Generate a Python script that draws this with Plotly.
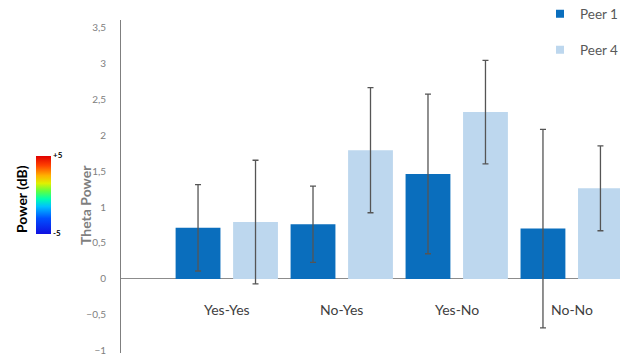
import plotly.graph_objects as go

categories = ["Yes-Yes", "No-Yes", "Yes-No", "No-No"]
peer1_values = [0.71, 0.76, 1.46, 0.70]
peer1_errors = [0.60, 0.53, 1.11, 1.38]
peer4_values = [0.79, 1.79, 2.32, 1.26]
peer4_errors = [0.86, 0.87, 0.72, 0.59]
ytick_vals = [-1, -0.5, 0, 0.5, 1, 1.5, 2, 2.5, 3, 3.5]
cbar_ticks = [-5, 5]
cbar_labels = ["-5", "+5"]

FONT = "Lato"
W, H = 620, 356
ML, MT, MB = 121, 20, 3
PW, PH = W - ML, H - MT - MB
C1, C4 = "#0A6EBD", "#BDD7EE"


def px_x(px):
    return (px - ML) / PW


def px_y(py):
    return (H - MB - py) / PH


fig = go.Figure()
fig.add_trace(go.Bar(
    x=categories, y=peer1_values, name="Peer 1", showlegend=False,
    marker=dict(color=C1, line=dict(width=0)),
    error_y=dict(type="data", array=peer1_errors, color="#555555", thickness=1.3, width=3),
))
fig.add_trace(go.Bar(
    x=categories, y=peer4_values, name="Peer 4", showlegend=False,
    marker=dict(color=C4, line=dict(width=0)),
    error_y=dict(type="data", array=peer4_errors, color="#555555", thickness=1.3, width=3),
))
# legend entries (square swatches)
fig.add_trace(go.Scatter(x=[None], y=[None], mode="markers", name="Peer 1", legend="legend",
                         marker=dict(symbol="square", size=8, color=C1)))
fig.add_trace(go.Scatter(x=[None], y=[None], mode="markers", name="Peer 4", legend="legend2",
                         marker=dict(symbol="square", size=8, color=C4)))

jet = [[0, "#1010e0"], [0.2, "#0050ff"], [0.35, "#00c0ff"], [0.45, "#00ffb0"],
       [0.55, "#60ff40"], [0.65, "#e0f000"], [0.75, "#ffb000"], [0.88, "#ff4000"], [1, "#e00000"]]
fig.add_trace(go.Scatter(
    x=[None, None], y=[None, None], mode="markers", showlegend=False, hoverinfo="skip",
    marker=dict(color=cbar_ticks, colorscale=jet, cmin=-5, cmax=5, showscale=True,
                colorbar=dict(
                    xref="container", x=36 / W, xanchor="left",
                    yref="container", y=1 - 208 / H, yanchor="middle",
                    lenmode="pixels", len=78, thicknessmode="pixels", thickness=15,
                    xpad=0, ypad=0, outlinewidth=0,
                    tickvals=cbar_ticks, ticktext=cbar_labels, ticks="",
                    tickfont=dict(family=FONT, size=8, color="#000", weight="bold"),
                )),
))

annotations = []
for c in categories:
    annotations.append(dict(x=c, y=-0.43, xref="x", yref="y", text=c, showarrow=False,
                            xanchor="center", yanchor="middle",
                            font=dict(family=FONT, size=14, color="#404040")))
annotations.append(dict(xref="paper", yref="paper", x=px_x(85), y=px_y(205),
                        xanchor="center", yanchor="middle",
                        text="<b>Theta Power</b>", textangle=-90, showarrow=False,
                        font=dict(family=FONT, size=14, color="#7f7f7f")))
annotations.append(dict(xref="paper", yref="paper", x=px_x(21), y=px_y(199),
                        xanchor="center", yanchor="middle",
                        text="<b>Power (dB)</b>", textangle=-90, showarrow=False,
                        font=dict(family=FONT, size=14, color="#000")))

fig.update_layout(
    width=W, height=H,
    margin=dict(l=ML, r=0, t=MT, b=MB, autoexpand=False),
    paper_bgcolor="white", plot_bgcolor="white",
    separators=",.",
    barmode="group", bargap=0, bargroupgap=0.22,
    xaxis=dict(range=[-0.92, 3.42], showticklabels=False, showgrid=False, zeroline=False,
               showline=False, ticks="", automargin=False),
    yaxis=dict(range=[-1.03, 3.6], tickvals=ytick_vals, showgrid=False,
               zeroline=True, zerolinecolor="#8c8c8c", zerolinewidth=1,
               showline=True, linecolor="#7f7f7f", linewidth=1, ticks="",
               ticklabelstandoff=12, ticklabeloverflow="allow", automargin=False,
               tickfont=dict(family=FONT, size=10, color="#808080")),
    legend=dict(xref="container", yref="container", x=540 / W, y=1 - 14 / H,
                xanchor="left", yanchor="middle", bgcolor="rgba(0,0,0,0)",
                font=dict(family=FONT, size=13.5, color="#595959")),
    legend2=dict(xref="container", yref="container", x=540 / W, y=1 - 50 / H,
                 xanchor="left", yanchor="middle", bgcolor="rgba(0,0,0,0)",
                 font=dict(family=FONT, size=13.5, color="#595959")),
    annotations=annotations,
    showlegend=True,
)

fig.write_html("out.html")
